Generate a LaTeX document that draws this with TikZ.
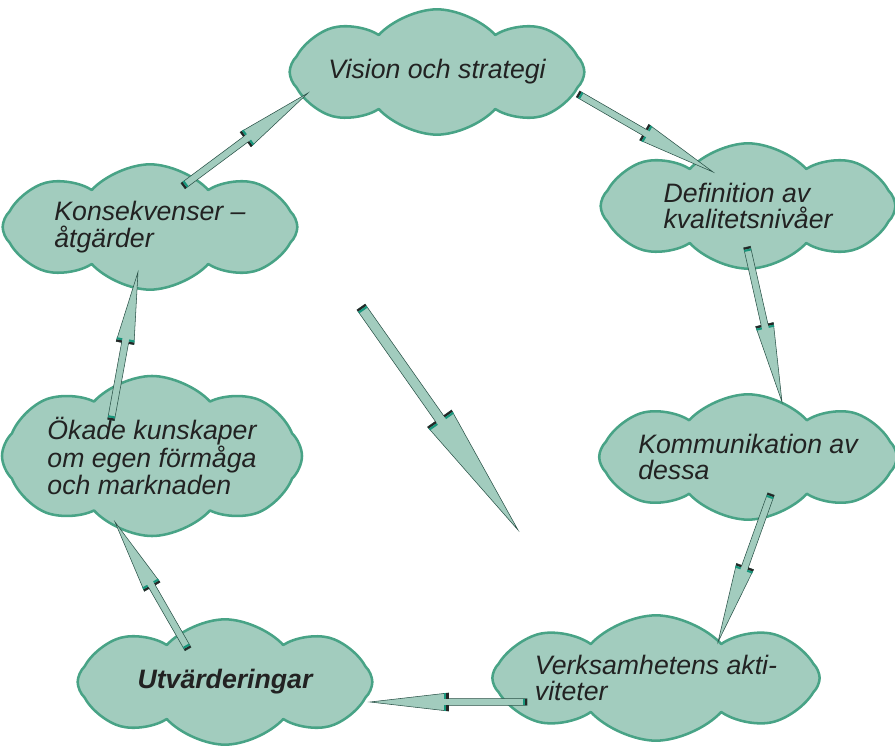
\documentclass[tikz,border=0pt]{standalone}
\usepackage{fontspec}
\setsansfont{Liberation Sans}
\usetikzlibrary{shapes.symbols,calc}

\definecolor{cloudfill}{RGB}{162,204,190}
\definecolor{cloudline}{RGB}{72,163,134}
\definecolor{capteal}{RGB}{24,150,124}
\definecolor{arrowline}{RGB}{40,80,70}
\definecolor{textgray}{RGB}{34,34,34}

\tikzset{
  wolk/.style={cloud, cloud puffs=8, cloud puff arc=95, cloud ignores aspect,
    draw=cloudline, line width=1.9pt, line join=round, fill=cloudfill, align=left,
    text=textgray, font=\sffamily\itshape\fontsize{20}{20}\selectfont, inner sep=0pt,
    minimum width=221pt, minimum height=94pt},
  pilfill/.style={fill=cloudfill, draw=arrowline, line width=0.4pt},
  svartkant/.style={draw=black!85, line width=1.6pt},
  gronkant/.style={draw=capteal, line width=1.6pt}
}

% fat arrow: [head position]{tail}{tip}
\def\shaftw{2.6pt}
\def\headw{6.8pt}
\newcommand{\fatarrow}[3][0.5]{%
  \coordinate (fa-a) at (#2);
  \coordinate (fa-b) at (#3);
  \coordinate (fa-h) at ($(fa-a)!#1!(fa-b)$);
  \filldraw[pilfill] ($(fa-a)!\shaftw!90:(fa-b)$) -- ($(fa-h)!\shaftw!90:(fa-b)$)
    -- ($(fa-h)!\headw!90:(fa-b)$) -- (fa-b) -- ($(fa-h)!\headw!-90:(fa-b)$)
    -- ($(fa-h)!\shaftw!-90:(fa-b)$) -- ($(fa-a)!\shaftw!-90:(fa-b)$) -- cycle;
  % tail and head edges
  \coordinate (fa-t1) at ($(fa-a)!0.8pt!(fa-b)$);
  \coordinate (fa-t2) at ($(fa-a)!2.4pt!(fa-b)$);
  \coordinate (fa-h1) at ($(fa-h)!0.8pt!(fa-b)$);
  \coordinate (fa-h2) at ($(fa-h)!2.4pt!(fa-b)$);
  \draw[svartkant] ($(fa-t1)!\shaftw!90:(fa-b)$) -- ($(fa-t1)!\shaftw!-90:(fa-b)$);
  \draw[gronkant] ($(fa-t2)!\shaftw!90:(fa-b)$) -- ($(fa-t2)!\shaftw!-90:(fa-b)$);
  \draw[svartkant] ($(fa-h1)!\shaftw!90:(fa-b)$) -- ($(fa-h1)!\headw!90:(fa-b)$)
    ($(fa-h1)!\shaftw!-90:(fa-b)$) -- ($(fa-h1)!\headw!-90:(fa-b)$);
  \draw[gronkant] ($(fa-h2)!\shaftw!90:(fa-b)$) -- ($(fa-h2)!\headw!90:(fa-b)$)
    ($(fa-h2)!\shaftw!-90:(fa-b)$) -- ($(fa-h2)!\headw!-90:(fa-b)$);
}

\begin{document}
\begin{tikzpicture}[x=0.75pt,y=-0.75pt]
\useasboundingbox (0,0) rectangle (895,748);

%Clouds
\node[wolk] (vision) at (437,72) {Vision och strategi};
\node[wolk] (def) at (748,206) {Definition av\\kvalitetsnivåer};
\node[wolk] (komm) at (748,457) {Kommunikation av\\dessa};
\node[wolk] (verk) at (656,678) {Verksamhetens akti-\\viteter};
\node[wolk, font=\sffamily\bfseries\itshape\fontsize{20}{20}\selectfont] (utv) at (225,682) {Utvärderingar};
\node[wolk, minimum width=225pt, minimum height=120pt] (okade) at (152,456) {Ökade kunskaper\\om egen förmåga\\och marknaden};
\node[wolk] (kons) at (150,227) {Konsekvenser –\\åtgärder};

%Arrows
\fatarrow[0.49]{[shift={(141,22)}]vision.center}{[shift={(-35,-34)}]def.center}
\fatarrow[0.50]{[shift={(-1,41)}]def.center}{[shift={(34,-55)}]komm.center}
\fatarrow[0.49]{[shift={(23,37)}]komm.center}{[shift={(62,-36)}]verk.center}
\fatarrow[0.50]{[shift={(-129,24)}]verk.center}{[shift={(145,20)}]utv.center}
\fatarrow[0.49]{[shift={(-37,-33)}]utv.center}{[shift={(-37,66)}]okade.center}
\fatarrow[0.52]{[shift={(-41,-36)}]okade.center}{[shift={(-12,45)}]kons.center}
\fatarrow[0.50]{[shift={(33,-41)}]kons.center}{[shift={(-129,21)}]vision.center}

% middle arrow
\coordinate (mitt-a) at (361,307);
\coordinate (mitt-b) at (518,530);
\begin{scope}
  \def\shaftw{3.75pt}
  \def\headw{11pt}
  \fatarrow[0.50]{mitt-a}{mitt-b}
\end{scope}

\end{tikzpicture}
\end{document}
